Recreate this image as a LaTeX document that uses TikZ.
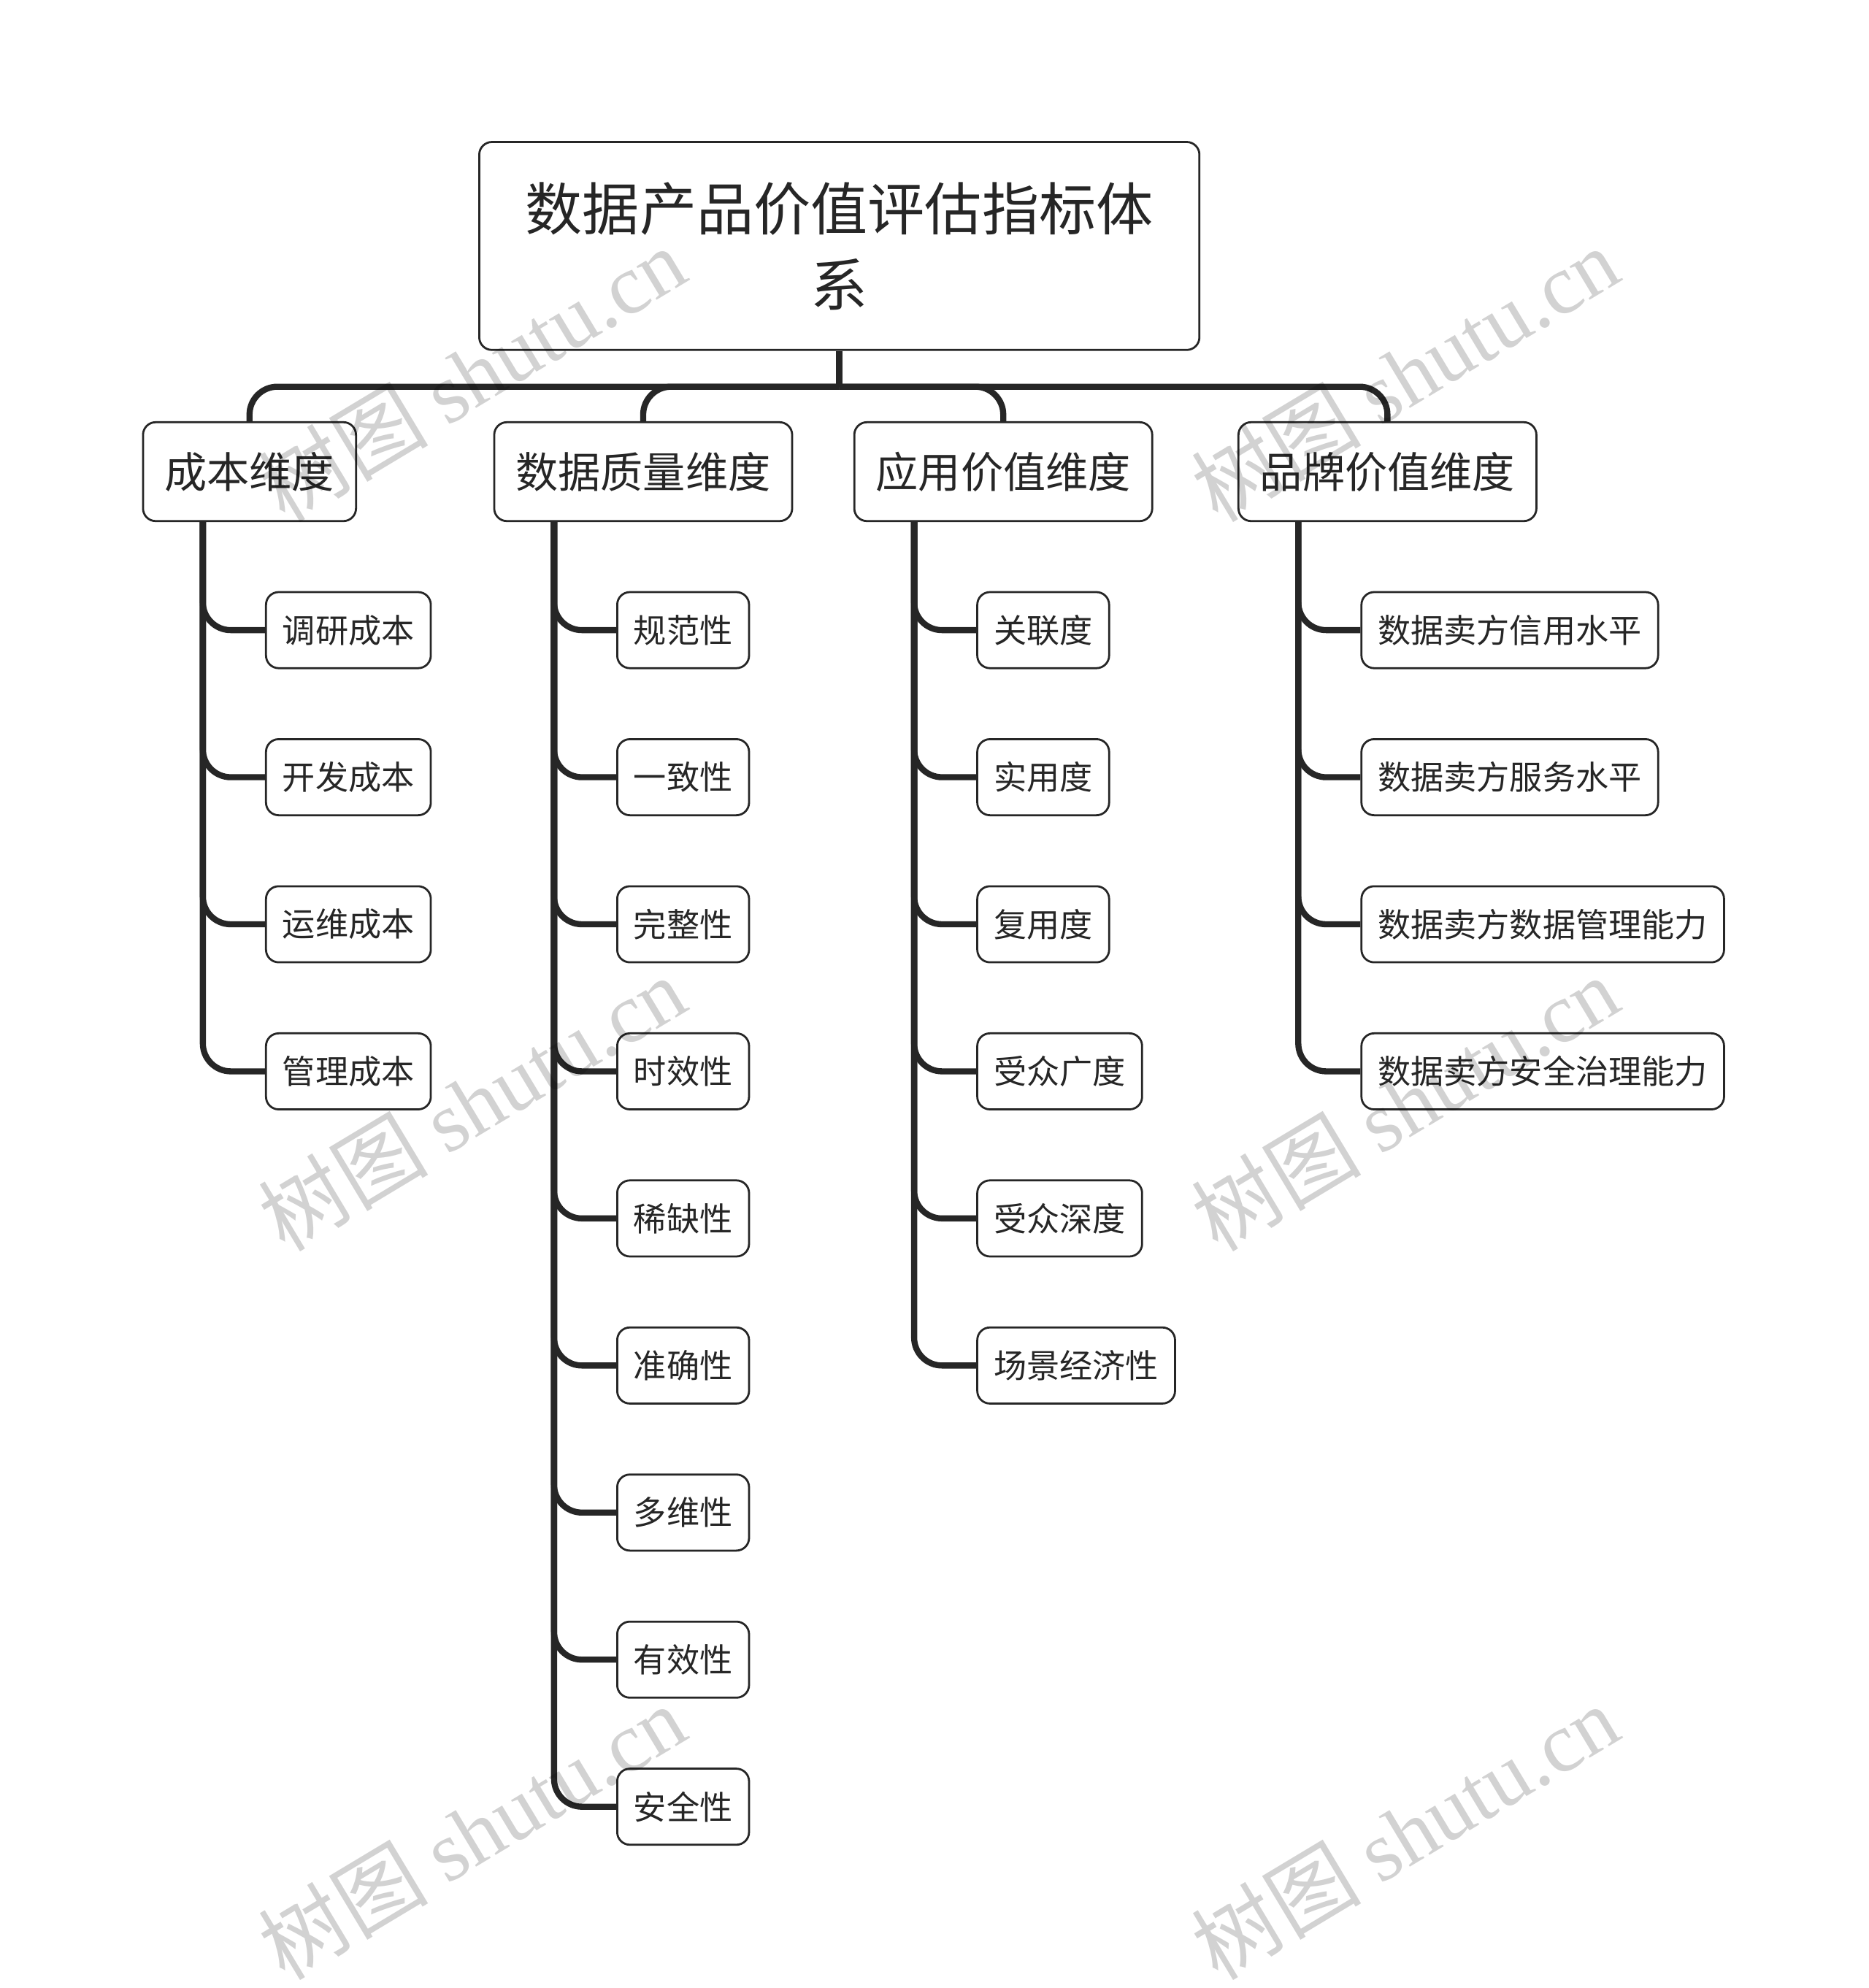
\documentclass[tikz,border=0pt]{standalone}
\usepackage{fontspec}
\setmainfont{Noto Sans CJK SC}
\newfontfamily\wmlatin{Liberation Serif}
\newfontfamily\wmcjk{Noto Sans CJK SC}
\definecolor{ink}{HTML}{262626}
\definecolor{wm}{HTML}{D2D2D2}
\tikzset{
  basebox/.style={draw=ink, line width=1.6pt, rounded corners=10pt, fill=white, text=ink},
  rootbox/.style={basebox, minimum width=568pt, minimum height=164pt, align=center, inner sep=0pt, font=\fontsize{45}{60}\selectfont},
  dimbox/.style={basebox, anchor=west, minimum height=78pt, inner xsep=17pt, inner ysep=0pt, font=\fontsize{33.5}{40}\selectfont},
  leafbox/.style={basebox, anchor=west, minimum height=60pt, inner xsep=13pt, inner ysep=0pt, font=\fontsize{26}{30}\selectfont},
  link/.style={draw=ink, line width=4.8pt},
  branch/.style={link, rounded corners=22pt},
  watermark/.style={text=wm, rotate=31, inner sep=0pt, font=\fontsize{67}{70}\selectfont}
}
\begin{document}
\begin{tikzpicture}[x=1pt,y=-1pt]
\useasboundingbox (0,0) rectangle (1474,1568);
% root
\node[rootbox] (root) at (662,194) {数据产品价值评估指标体\\系};
% dimensions
\node[dimbox] (d1) at (112,372) {成本维度};
\node[dimbox] (d2) at (389,372) {数据质量维度};
\node[dimbox] (d3) at (673,372) {应用价值维度};
\node[dimbox] (d4) at (976,372) {品牌价值维度};
% bus
\coordinate (bus) at (662,305);
\draw[link] (root.south) -- (bus);
\foreach \d in {d1,d2,d3,d4}{
  \draw[branch] (bus) -| (\d.north);
}
% leaves of d1
\node[leafbox] (a1) at (209,497) {调研成本};
\node[leafbox] (a2) at (209,613) {开发成本};
\node[leafbox] (a3) at (209,729) {运维成本};
\node[leafbox] (a4) at (209,845) {管理成本};
% leaves of d2
\node[leafbox] (b1) at (486,497) {规范性};
\node[leafbox] (b2) at (486,613) {一致性};
\node[leafbox] (b3) at (486,729) {完整性};
\node[leafbox] (b4) at (486,845) {时效性};
\node[leafbox] (b5) at (486,961) {稀缺性};
\node[leafbox] (b6) at (486,1077) {准确性};
\node[leafbox] (b7) at (486,1193) {多维性};
\node[leafbox] (b8) at (486,1309) {有效性};
\node[leafbox] (b9) at (486,1425) {安全性};
% leaves of d3
\node[leafbox] (c1) at (770,497) {关联度};
\node[leafbox] (c2) at (770,613) {实用度};
\node[leafbox] (c3) at (770,729) {复用度};
\node[leafbox] (c4) at (770,845) {受众广度};
\node[leafbox] (c5) at (770,961) {受众深度};
\node[leafbox] (c6) at (770,1077) {场景经济性};
% leaves of d4
\node[leafbox] (e1) at (1073,497) {数据卖方信用水平};
\node[leafbox] (e2) at (1073,613) {数据卖方服务水平};
\node[leafbox] (e3) at (1073,729) {数据卖方数据管理能力};
\node[leafbox] (e4) at (1073,845) {数据卖方安全治理能力};
% branches
\foreach \l in {a1,a2,a3,a4}{\draw[branch] ([xshift=48pt]d1.south west) |- (\l.west);}
\foreach \l in {b1,b2,b3,b4,b5,b6,b7,b8,b9}{\draw[branch] ([xshift=48pt]d2.south west) |- (\l.west);}
\foreach \l in {c1,c2,c3,c4,c5,c6}{\draw[branch] ([xshift=48pt]d3.south west) |- (\l.west);}
\foreach \l in {e1,e2,e3,e4}{\draw[branch] ([xshift=48pt]d4.south west) |- (\l.west);}
% watermarks
\begin{scope}[blend mode=multiply]
\foreach \p [count=\i] in {{(372,295)},{(1108,295)},{(372,870)},{(1108,870)},{(372,1445)},{(1108,1445)}}{
  \node[watermark] (wm\i) at \p {{\wmcjk 树图} {\wmlatin shutu.cn}};
}
\end{scope}
\end{tikzpicture}
\end{document}
